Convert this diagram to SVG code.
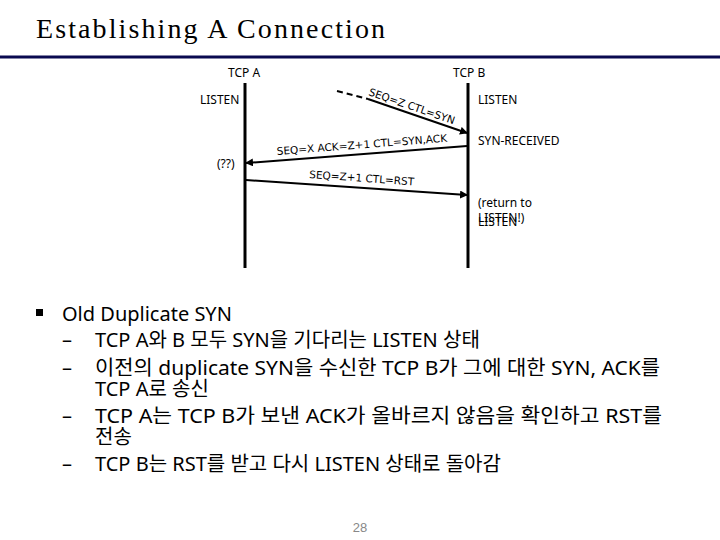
<svg xmlns="http://www.w3.org/2000/svg" width="720" height="540" viewBox="0 0 720 540">
<style>
.lbl{font-family:"Noto Sans",sans-serif;font-size:12px;fill:#000}
.msg{font-family:"DejaVu Sans",sans-serif;font-size:10.5px;fill:#000}
.life{stroke:#000;stroke-width:3}
.arr{stroke:#000;stroke-width:2;fill:none;marker-end:url(#ah)}
.body{font-family:"Noto Sans","Noto Sans CJK KR",sans-serif;font-size:20px;fill:#000}
</style>
<defs><marker id="ah" markerWidth="8" markerHeight="8" refX="7" refY="4" orient="auto" markerUnits="userSpaceOnUse"><path d="M0,0 L8,4 L0,8 z" fill="#000"/></marker></defs>
<rect width="720" height="540" fill="#fff"/>
<text x="36" y="38" font-family="Liberation Serif,serif" font-size="28" textLength="349" lengthAdjust="spacing">Establishing A Connection</text>
<line x1="0" y1="57" x2="720" y2="57" stroke="#0a0a50" stroke-width="3"/>
<g id="tcpA"><line class="life" x1="245" y1="83" x2="245" y2="268"/>
<text class="lbl" x="228" y="77">TCP A</text>
<text class="lbl" x="200" y="104">LISTEN</text>
<text class="lbl" x="217" y="168">(??)</text></g>
<g id="tcpB"><line class="life" x1="468" y1="83" x2="468" y2="268"/>
<text class="lbl" x="453" y="77">TCP B</text>
<text class="lbl" x="478" y="104">LISTEN</text>
<text class="lbl" x="478" y="145">SYN-RECEIVED</text>
<text class="lbl" x="478" y="207">(return to</text>
<text class="lbl" x="478" y="222">LISTEN!)</text>
<text class="lbl" x="478" y="226">LISTEN</text></g>
<g id="connectors">
<line x1="337" y1="91" x2="368" y2="99" stroke="#000" stroke-width="2" stroke-dasharray="6,4"/>
<line class="arr" x1="368" y1="99" x2="467" y2="133"/>
<line class="arr" x1="467" y1="146" x2="246" y2="163"/>
<line class="arr" x1="246" y1="180" x2="467" y2="195"/>
<text class="msg" transform="translate(368,95) rotate(19)">SEQ=Z CTL=SYN</text>
<text class="msg" transform="translate(277,155) rotate(-4.5)">SEQ=X ACK=Z+1 CTL=SYN,ACK</text>
<text class="msg" transform="translate(309,178) rotate(4)">SEQ=Z+1 CTL=RST</text>
</g>
<g id="text">
<rect x="36" y="309" width="7" height="7" fill="#000"/>
<text class="body" x="62" y="321">Old Duplicate SYN</text>
<text class="body" x="62" y="347">–</text><text class="body" x="95" y="347">TCP A와 B 모두 SYN을 기다리는 LISTEN 상태</text>
<text class="body" x="62" y="375">–</text><text class="body" x="95" y="375" textLength="565" lengthAdjust="spacingAndGlyphs">이전의 duplicate SYN을 수신한 TCP B가 그에 대한 SYN, ACK를</text>
<text class="body" x="95" y="396">TCP A로 송신</text>
<text class="body" x="62" y="423">–</text><text class="body" x="95" y="423" textLength="567" lengthAdjust="spacingAndGlyphs">TCP A는 TCP B가 보낸 ACK가 올바르지 않음을 확인하고 RST를</text>
<text class="body" x="95" y="444">전송</text>
<text class="body" x="62" y="471">–</text><text class="body" x="95" y="471">TCP B는 RST를 받고 다시 LISTEN 상태로 돌아감</text>
<text x="360" y="532" text-anchor="middle" font-family="Liberation Sans,sans-serif" font-size="13" fill="#888">28</text>
</g>
</svg>
